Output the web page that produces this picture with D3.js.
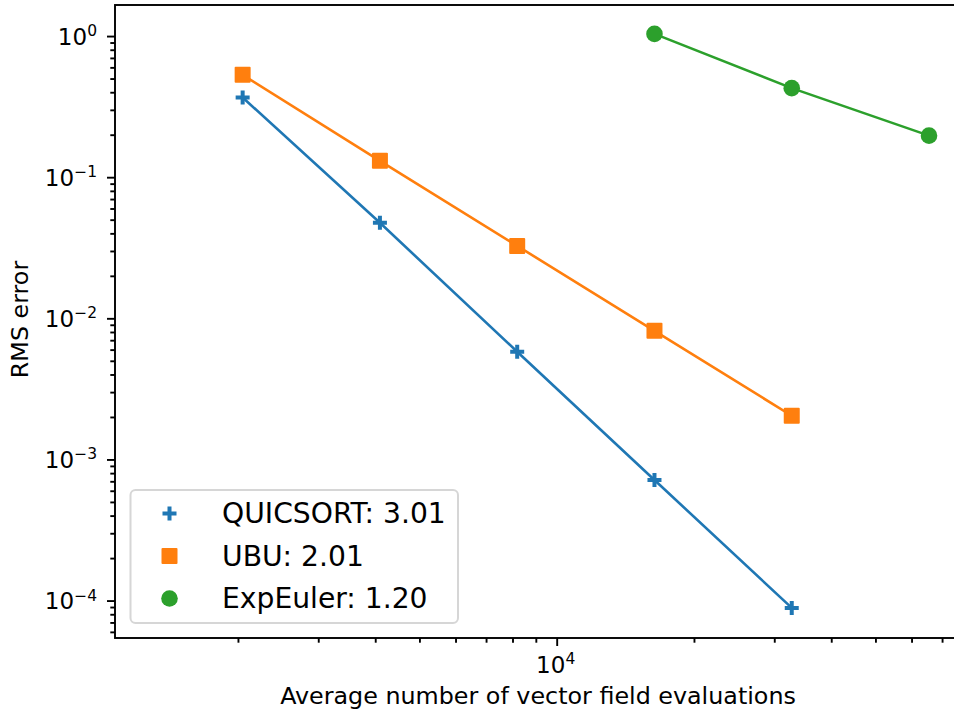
<!DOCTYPE html>
<html>
<head>
<meta charset="utf-8">
<script src="https://cdn.jsdelivr.net/npm/d3@7"></script>
<style>
  body { margin: 0; background: #fff; }
  text { font-family: "DejaVu Sans", sans-serif; fill: #000; }
</style>
</head>
<body>
<div id="chart"></div>
<script>
const width = 954;
const height = 713;

// data (x = average number of field evaluations)
const quicsortX = [2048, 4096, 8192, 16384, 32768];
const quicsortY = [0.367, 0.0475, 0.0058, 0.000715, 0.0000887];
const ubuX = [2048, 4096, 8192, 16384, 32768];
const ubuY = [0.531, 0.1305, 0.0326, 0.00815, 0.00204];
const expEulerX = [16384, 32768, 65536];
const expEulerY = [1.036, 0.4275, 0.197];

const seriesNames = ["QUICSORT: 3.01", "UBU: 2.01", "ExpEuler: 1.20"];
const seriesColors = ["#1f77b4", "#ff7f0e", "#2ca02c"];
const seriesMarkers = ["plus", "square", "circle"];

const yMajor = [1, 0.1, 0.01, 0.001, 0.0001];
const yMajorExp = ["0", "\u22121", "\u22122", "\u22123", "\u22124"];
const xMajor = [10000];
const xMajorExp = ["4"];

const margin = {left: 115, right: -3, top: 5, bottom: 75};

const x = d3.scaleLog()
  .domain([1075, 75480])
  .range([margin.left, width - margin.right]);

const y = d3.scaleLog()
  .domain([1.66, 0.0000543])
  .range([margin.top, height - margin.bottom]);

const svg = d3.select("#chart").append("svg")
  .attr("width", width)
  .attr("height", height);

// minor ticks: 2..9 of every decade inside the domain
function minorTicks(scale) {
  const [a, b] = d3.extent(scale.domain());
  const out = [];
  for (let e = Math.floor(Math.log10(a)); e <= Math.ceil(Math.log10(b)); e++) {
    for (let m = 2; m <= 9; m++) {
      const v = m * Math.pow(10, e);
      if (v >= a && v <= b) out.push(v);
    }
  }
  return out;
}

const plotBottom = height - margin.bottom;

// x axis
svg.append("g")
  .attr("transform", `translate(0,${plotBottom})`)
  .call(d3.axisBottom(x).tickValues(minorTicks(x)).tickSize(4.7).tickFormat(""))
  .call(g => g.select(".domain").remove());
svg.append("g")
  .attr("transform", `translate(0,${plotBottom})`)
  .call(d3.axisBottom(x).tickValues(xMajor).tickSize(8).tickFormat(""))
  .call(g => g.select(".domain").remove());

// y axis
svg.append("g")
  .attr("transform", `translate(${margin.left},0)`)
  .call(d3.axisLeft(y).tickValues(minorTicks(y)).tickSize(4.7).tickFormat(""))
  .call(g => g.select(".domain").remove());
svg.append("g")
  .attr("transform", `translate(${margin.left},0)`)
  .call(d3.axisLeft(y).tickValues(yMajor).tickSize(8).tickFormat(""))
  .call(g => g.select(".domain").remove());

svg.selectAll(".tick line").attr("stroke", "#000").attr("stroke-width", 1.9);

// tick labels with superscripts
yMajor.forEach((v, i) => {
  const t = svg.append("text")
    .attr("x", 97)
    .attr("y", y(v) + 8.5)
    .attr("text-anchor", "end")
    .style("font-size", "23px");
  t.append("tspan").text("10");
  t.append("tspan").attr("dy", -8.5).style("font-size", "15.5px").text(yMajorExp[i]);
});
xMajor.forEach((v, i) => {
  const t = svg.append("text")
    .attr("x", x(v) - 1)
    .attr("y", 672.5)
    .attr("text-anchor", "middle")
    .style("font-size", "23px");
  t.append("tspan").text("10");
  t.append("tspan").attr("dy", -8.5).style("font-size", "15.5px").text(xMajorExp[i]);
});

// spines
svg.append("rect")
  .attr("x", margin.left)
  .attr("y", margin.top)
  .attr("width", width - margin.right - margin.left)
  .attr("height", plotBottom - margin.top)
  .attr("fill", "none")
  .attr("stroke", "#000")
  .attr("stroke-width", 1.9);

// axis labels
svg.append("text")
  .attr("x", (margin.left + width - margin.right) / 2 + 2)
  .attr("y", 703.5)
  .attr("text-anchor", "middle")
  .style("font-size", "23.8px")
  .text("Average number of vector field evaluations");

svg.append("text")
  .attr("transform", `translate(28,${(margin.top + plotBottom) / 2 - 2}) rotate(-90)`)
  .attr("text-anchor", "middle")
  .style("font-size", "23.8px")
  .text("RMS error");

const series = [
  {xs: quicsortX, ys: quicsortY},
  {xs: ubuX, ys: ubuY},
  {xs: expEulerX, ys: expEulerY}
];

const line = d3.line().x(d => x(d[0])).y(d => y(d[1]));

function drawMarker(g, kind, color, cx, cy) {
  if (kind === "plus") {
    g.append("path")
      .attr("d", `M${cx - 7},${cy}H${cx + 7}M${cx},${cy - 7}V${cy + 7}`)
      .attr("stroke", color)
      .attr("stroke-width", 4)
      .attr("fill", "none");
  } else if (kind === "square") {
    g.append("rect")
      .attr("x", cx - 8).attr("y", cy - 8)
      .attr("width", 16).attr("height", 16)
      .attr("rx", 1)
      .attr("fill", color);
  } else {
    g.append("circle")
      .attr("cx", cx).attr("cy", cy).attr("r", 8.3)
      .attr("fill", color);
  }
}

series.forEach((s, i) => {
  const pts = s.xs.map((v, j) => [v, s.ys[j]]);
  const g = svg.append("g");
  g.append("path")
    .datum(pts)
    .attr("d", line)
    .attr("fill", "none")
    .attr("stroke", seriesColors[i])
    .attr("stroke-width", 2.6);
  pts.forEach(p => drawMarker(g, seriesMarkers[i], seriesColors[i], x(p[0]), y(p[1])));
});

// legend
const legend = svg.append("g");
legend.append("rect")
  .attr("x", 130.5).attr("y", 490)
  .attr("width", 327.5).attr("height", 133)
  .attr("rx", 5)
  .attr("fill", "rgba(255,255,255,0.8)")
  .attr("stroke", "#d6d6d6")
  .attr("stroke-width", 2);

seriesNames.forEach((name, i) => {
  const cy = 513.5 + i * 42.5;
  drawMarker(legend, seriesMarkers[i], seriesColors[i], 169.5, cy);
  legend.append("text")
    .attr("x", 222)
    .attr("y", cy + 9.8)
    .style("font-size", "28.2px")
    .text(name);
});
</script>
</body>
</html>
